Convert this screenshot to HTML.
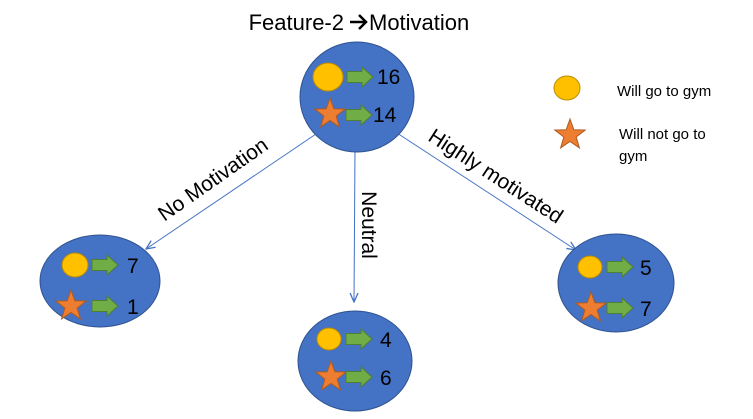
<!DOCTYPE html>
<html><head><style>html,body{margin:0;padding:0;background:#fff;}svg{display:block}</style></head>
<body>
<svg width="753" height="419" viewBox="0 0 753 419" xmlns="http://www.w3.org/2000/svg" font-family="Liberation Sans, sans-serif">
<defs>
<polygon id="st" points="0,-16 3.82,-5.26 15.22,-4.94 6.18,2.01 9.40,12.94 0,6.5 -9.40,12.94 -6.18,2.01 -15.22,-4.94 -3.82,-5.26" fill="#ED7D31" stroke="#AE5A21" stroke-width="1"/>
<polygon id="ar" points="0,-5.5 15,-5.5 15,-10 26,0 15,10 15,5.5 0,5.5" fill="#70AD47" stroke="#507E32" stroke-width="1"/>
<marker id="m" markerWidth="10" markerHeight="10" refX="9" refY="5" orient="auto" markerUnits="userSpaceOnUse"><path d="M0,1 L9,5 L0,9" fill="none" stroke="#4472C4" stroke-width="1.3"/></marker>
</defs>
<text x="344" y="30" font-size="22" text-anchor="end">Feature-2</text>
<path d="M350,22 H366 M359,15 L366,22 L359,29" fill="none" stroke="#000" stroke-width="2.5"/>
<text x="369" y="30" font-size="22">Motivation</text>
<g stroke="#4472C4" stroke-width="1" marker-end="url(#m)">
<line x1="316" y1="134" x2="146" y2="249"/>
<line x1="355" y1="148" x2="354" y2="302"/>
<line x1="397" y1="133" x2="576" y2="250"/>
</g>
<g font-size="21">
<text transform="translate(217,185) rotate(-35)" text-anchor="middle">No Motivation</text>
<text transform="translate(362,225) rotate(90)" text-anchor="middle">Neutral</text>
<text transform="translate(492,182) rotate(33)" text-anchor="middle">Highly motivated</text>
</g>
<g fill="#4472C4" stroke="#2F528F" stroke-width="1">
<ellipse cx="357" cy="97" rx="57" ry="55"/>
<ellipse cx="100" cy="281" rx="60" ry="46"/>
<ellipse cx="355" cy="361" rx="57" ry="50"/>
<ellipse cx="616" cy="283" rx="58" ry="49"/>
</g>
<g fill="#FFC000" stroke="#BC8C00" stroke-width="1">
<ellipse cx="328" cy="77" rx="15" ry="14"/>
<ellipse cx="75" cy="265" rx="13" ry="12"/>
<ellipse cx="329" cy="339" rx="12" ry="11"/>
<ellipse cx="590" cy="267" rx="12" ry="11"/>
<ellipse cx="567" cy="88" rx="13" ry="12"/>
</g>
<use href="#st" x="330" y="114"/>
<use href="#st" x="71" y="306"/>
<use href="#st" x="331" y="377"/>
<use href="#st" x="591" y="308"/>
<use href="#st" x="570" y="135"/>
<use href="#ar" x="347" y="77"/>
<use href="#ar" x="346" y="115"/>
<use href="#ar" x="92" y="265"/>
<use href="#ar" x="92" y="306"/>
<use href="#ar" x="346" y="339"/>
<use href="#ar" x="346" y="377"/>
<use href="#ar" x="607" y="267"/>
<use href="#ar" x="607" y="308"/>
<g font-size="21">
<text x="377" y="84">16</text>
<text x="373" y="122">14</text>
<text x="127" y="273">7</text>
<text x="127" y="314">1</text>
<text x="380" y="347">4</text>
<text x="380" y="385">6</text>
<text x="640" y="275">5</text>
<text x="640" y="316">7</text>
</g>
<g font-size="15">
<text x="617" y="96">Will go to gym</text>
<text x="619" y="139">Will not go to</text>
<text x="619" y="161">gym</text>
</g>
</svg>
</body></html>
